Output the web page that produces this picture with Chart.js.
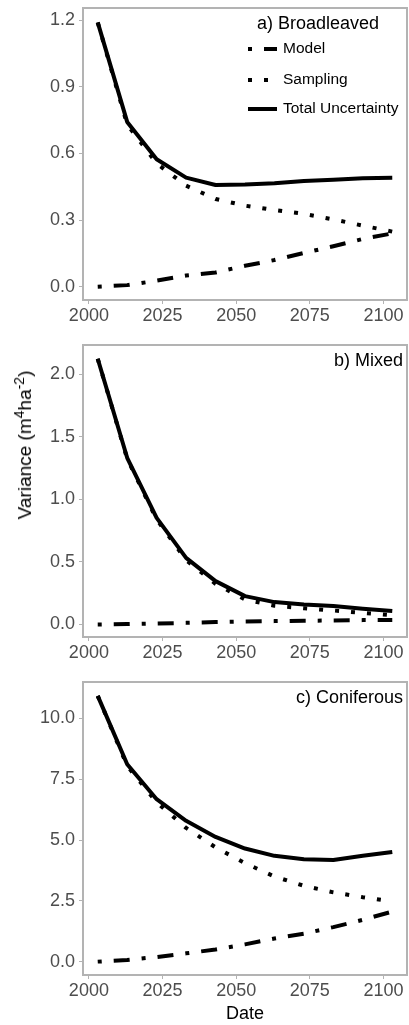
<!DOCTYPE html>
<html><head><meta charset="utf-8">
<script src="https://cdn.jsdelivr.net/npm/chart.js@4.4.0/dist/chart.umd.min.js"></script>
<style>
html,body{margin:0;padding:0;background:#fff;}
#wrap{position:relative;width:409px;height:1025px;overflow:hidden;font-family:"Liberation Sans",Arial,sans-serif;background:#fff;}
canvas{position:absolute;left:0;}
#ytitle{position:absolute;left:25px;top:445px;transform:translate(-50%,-50%) rotate(-90deg);font-size:19px;white-space:nowrap;color:#000;}
#ytitle sup{font-size:14px;line-height:0;}
</style></head>
<body><div id="wrap">
<canvas id="cA" width="409" height="330" style="top:0px"></canvas>
<canvas id="cB" width="409" height="336" style="top:330px"></canvas>
<canvas id="cC" width="409" height="359" style="top:666px"></canvas>
<div id="ytitle">Variance (m<sup>4</sup>ha<sup>-2</sup>)</div>
</div>
<script>
const years = [2003, 2013, 2023, 2033, 2043, 2053, 2063, 2073, 2083, 2093, 2103];
const xTicks = [2000, 2025, 2050, 2075, 2100];
const seriesNames = ['Model', 'Sampling', 'Total Uncertainty'];

const broadModel    = [0.00, 0.007, 0.027, 0.050, 0.064, 0.094, 0.120, 0.152, 0.182, 0.215, 0.240];
const broadSampling = [1.19, 0.730, 0.555, 0.455, 0.395, 0.365, 0.345, 0.328, 0.303, 0.275, 0.248];
const broadTotal    = [1.19, 0.742, 0.574, 0.491, 0.458, 0.460, 0.466, 0.476, 0.482, 0.488, 0.490];
const broadYTicks   = [0.0, 0.3, 0.6, 0.9, 1.2];

const mixedModel    = [0.000, 0.003, 0.008, 0.013, 0.019, 0.024, 0.027, 0.030, 0.032, 0.035, 0.035];
const mixedSampling = [2.125, 1.325, 0.840, 0.515, 0.325, 0.200, 0.150, 0.130, 0.112, 0.092, 0.074];
const mixedTotal    = [2.125, 1.333, 0.853, 0.533, 0.347, 0.227, 0.179, 0.160, 0.147, 0.125, 0.107];
const mixedYTicks   = [0.0, 0.5, 1.0, 1.5, 2.0];

const conifModel    = [0.00, 0.07, 0.19, 0.34, 0.50, 0.71, 0.95, 1.15, 1.42, 1.72, 2.06];
const conifSampling = [10.93, 8.05, 6.55, 5.50, 4.70, 4.05, 3.50, 3.12, 2.85, 2.65, 2.48];
const conifTotal    = [10.93, 8.12, 6.68, 5.79, 5.13, 4.65, 4.35, 4.21, 4.18, 4.35, 4.51];
const conifYTicks   = [0.0, 2.5, 5.0, 7.5, 10.0];

const FONT = '"Liberation Sans", Arial, sans-serif';
const LW = 4;
const styles = [
  {dash: [4, 12, 16, 12], order: 2},
  {dash: [4, 12], order: 1},
  {dash: [], order: 0}
];

const boxPlugin = {
  id: 'panelBox',
  afterDraw(chart) {
    const {ctx, chartArea: a} = chart;
    ctx.save();
    ctx.strokeStyle = '#b3b3b3';
    ctx.lineWidth = 2;
    ctx.strokeRect(a.left, a.top, a.right - a.left, a.bottom - a.top);
    const o = chart.options.plugins.panelBox;
    if (o.label) {
      ctx.fillStyle = '#000';
      ctx.font = '18px ' + FONT;
      ctx.textAlign = 'right';
      ctx.textBaseline = 'middle';
      ctx.fillText(o.label, 403, a.top + 16);
    }
    if (o.legend) {
      ctx.fillStyle = '#000';
      ctx.font = '18px ' + FONT;
      ctx.textAlign = 'left';
      ctx.textBaseline = 'middle';
      ctx.fillText(o.legend.title, 257, 24);
      const ys = [49, 80, 109];
      chart.data.datasets.forEach((ds, i) => {
        ctx.save();
        ctx.strokeStyle = '#000';
        ctx.lineWidth = LW;
        ctx.lineCap = 'butt';
        ctx.setLineDash(ds.borderDash);
        ctx.beginPath();
        ctx.moveTo(248, ys[i]);
        ctx.lineTo(277, ys[i]);
        ctx.stroke();
        ctx.restore();
        ctx.font = '15.5px ' + FONT;
        ctx.fillStyle = '#000';
        ctx.fillText(ds.label, 283, ys[i]);
      });
    }
    ctx.restore();
  }
};

function makePanel(id, model, sampling, total, yTicks, yMin, yMax, padTop, xHeight, label, legendTitle, xTitle) {
  const vals = [model, sampling, total];
  const datasets = vals.map((v, i) => ({
    label: seriesNames[i],
    data: years.map((yr, j) => ({x: yr, y: v[j]})),
    borderColor: '#000',
    borderWidth: LW,
    borderDash: styles[i].dash,
    borderCapStyle: 'butt',
    borderJoinStyle: 'round',
    pointRadius: 0,
    tension: 0,
    fill: false,
    order: styles[i].order
  }));
  new Chart(document.getElementById(id), {
    type: 'line',
    data: {datasets},
    options: {
      responsive: false,
      animation: false,
      devicePixelRatio: 1,
      layout: {padding: {top: padTop, right: 2, bottom: 0, left: 0}},
      plugins: {
        legend: {display: false},
        tooltip: {enabled: false},
        panelBox: {label: label, legend: legendTitle ? {title: legendTitle} : null}
      },
      scales: {
        x: {
          type: 'linear', min: 1998, max: 2108,
          afterBuildTicks: s => { s.ticks = xTicks.map(v => ({value: v})); },
          afterFit: s => { s.height = xHeight; s.paddingLeft = 0; s.paddingRight = 0; },
          grid: {drawOnChartArea: false, drawTicks: true, tickLength: 4, color: '#b3b3b3', lineWidth: 1},
          border: {display: false},
          ticks: {color: '#4d4d4d', font: {family: FONT, size: 18}, padding: 1, maxRotation: 0, autoSkip: false,
                  callback: v => String(v)},
          title: xTitle ? {display: true, text: xTitle, color: '#000', font: {family: FONT, size: 18, lineHeight: 1.2}, padding: {top: 0, bottom: 0}} : {display: false}
        },
        y: {
          type: 'linear', min: yMin, max: yMax,
          afterBuildTicks: s => { s.ticks = yTicks.map(v => ({value: v})); },
          afterFit: s => { s.width = 83; s.paddingTop = 0; s.paddingBottom = 0; },
          grid: {drawOnChartArea: false, drawTicks: true, tickLength: 4, color: '#b3b3b3', lineWidth: 1},
          border: {display: false},
          ticks: {color: '#4d4d4d', font: {family: FONT, size: 18}, padding: 4, autoSkip: false,
                  callback: v => Number(v).toFixed(1)}
        }
      }
    },
    plugins: [boxPlugin]
  });
}

makePanel('cA', broadModel, broadSampling, broadTotal, broadYTicks, -0.06, 1.255, 8, 30, null, 'a) Broadleaved', null);
makePanel('cB', mixedModel, mixedSampling, mixedTotal, mixedYTicks, -0.1, 2.235, 15, 29, 'b) Mixed', null, null);
makePanel('cC', conifModel, conifSampling, conifTotal, conifYTicks, -0.55, 11.5, 16, 50, 'c) Coniferous', null, 'Date');
</script>
</body></html>
